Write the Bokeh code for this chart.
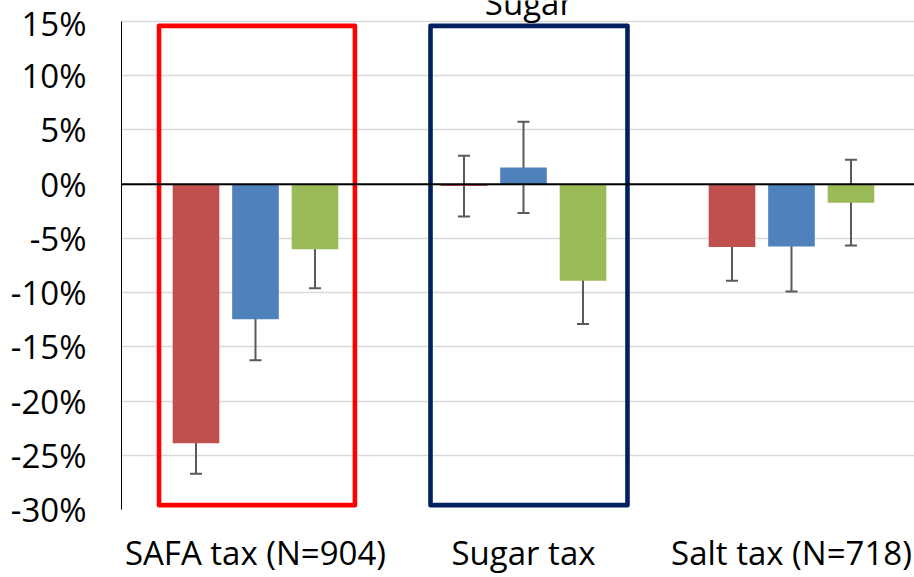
from bokeh.plotting import figure
from bokeh.models import (FixedTicker, Span, Label, Whisker, TeeHead, ColumnDataSource)
from bokeh.embed import file_html
from bokeh.resources import INLINE

# ---- data ----
categories = ["SAFA tax (N=904)", "Sugar tax", "Salt tax (N=718)"]
series_names = ["Series 1", "Series 2", "Series 3"]
series_1 = [-23.9, -0.17, -5.8]
series_1_err = [2.8, 2.8, 3.1]
series_2 = [-12.45, 1.55, -5.75]
series_2_err = [3.78, 4.2, 4.15]
series_3 = [-6.0, -8.9, -1.7]
series_3_err = [3.6, 4.0, 3.95]
y_ticks = [-30, -25, -20, -15, -10, -5, 0, 5, 10, 15]
y_tick_labels = ["-30%", "-25%", "-20%", "-15%", "-10%", "-5%", "0%", "5%", "10%", "15%"]
title_text = "Sugar"

colors = ["#C0504D", "#4F81BD", "#9BBB59"]
FONT = "Open Sans"
FS = "33px"

# frame reaches the top edge so the cut-off title can be drawn; axis is bounded to -30..15
p = figure(width=914, height=577, output_backend="svg", toolbar_location=None,
           x_range=(0, 2.959), y_range=(-30, 16.94),
           min_border_left=121, min_border_right=0, min_border_top=0,
           min_border_bottom=60)
p.outline_line_color = None
p.background_fill_color = "white"

# grid
p.xgrid.grid_line_color = None
p.ygrid.grid_line_color = "#D9D9D9"
p.ygrid.grid_line_width = 1.5

# y axis
p.yaxis.ticker = FixedTicker(ticks=y_ticks)
p.yaxis.bounds = (min(y_ticks), max(y_ticks))
p.yaxis.major_label_overrides = {t: l for t, l in zip(y_ticks, y_tick_labels)}
p.yaxis.major_tick_line_color = None
p.yaxis.minor_tick_line_color = None
p.yaxis.major_tick_out = 0
p.yaxis.major_tick_in = 0
p.yaxis.axis_line_color = "black"
p.yaxis.axis_line_width = 1
p.yaxis.major_label_text_font = FONT
p.yaxis.major_label_text_font_size = FS
p.yaxis.major_label_text_color = "black"
p.yaxis.major_label_standoff = 35

# x axis
centers = [i + 0.5 for i in range(len(categories))]
p.xaxis.ticker = FixedTicker(ticks=centers)
p.xaxis.major_label_overrides = {c: l for c, l in zip(centers, categories)}
p.xaxis.axis_line_color = None
p.xaxis.major_tick_line_color = None
p.xaxis.minor_tick_line_color = None
p.xaxis.major_tick_out = 0
p.xaxis.major_tick_in = 0
p.xaxis.major_label_text_font = FONT
p.xaxis.major_label_text_font_size = FS
p.xaxis.major_label_text_color = "black"
p.xaxis.major_label_standoff = 20

# bars
offsets = [-0.222, 0.0, 0.222]
bar_w = 0.174
all_vals = [series_1, series_2, series_3]
all_errs = [series_1_err, series_2_err, series_3_err]
for k, (vals, errs) in enumerate(zip(all_vals, all_errs)):
    xs = [c + offsets[k] for c in centers]
    src = ColumnDataSource(dict(x=xs, top=vals, bottom=[0] * len(vals),
                                upper=[v + e for v, e in zip(vals, errs)],
                                lower=[v - e for v, e in zip(vals, errs)]))
    p.vbar(x="x", top="top", bottom="bottom", width=bar_w, source=src,
           fill_color=colors[k], line_color=None)
    w = Whisker(base="x", upper="upper", lower="lower", source=src,
                line_color="#5A5A5A", line_width=2,
                upper_head=TeeHead(size=12, line_color="#5A5A5A", line_width=2),
                lower_head=TeeHead(size=12, line_color="#5A5A5A", line_width=2))
    p.add_layout(w)

# zero line
p.add_layout(Span(location=0, dimension="width", line_color="black", line_width=2))

# highlight boxes
p.quad(left=[0.14, 1.153], right=[0.871, 1.888], top=[14.6, 14.6], bottom=[-29.6, -29.6],
       fill_alpha=0, line_color=["#FF0000", "#002060"], line_width=4.6, line_join="round")

# title, cut off at the top edge as in the original
p.add_layout(Label(x=1.52, y=16.8, text=title_text, text_align="center",
                   text_baseline="alphabetic", text_font=FONT, text_font_size=FS,
                   text_color="black"))

open("out.html", "w").write(file_html(p, INLINE))
